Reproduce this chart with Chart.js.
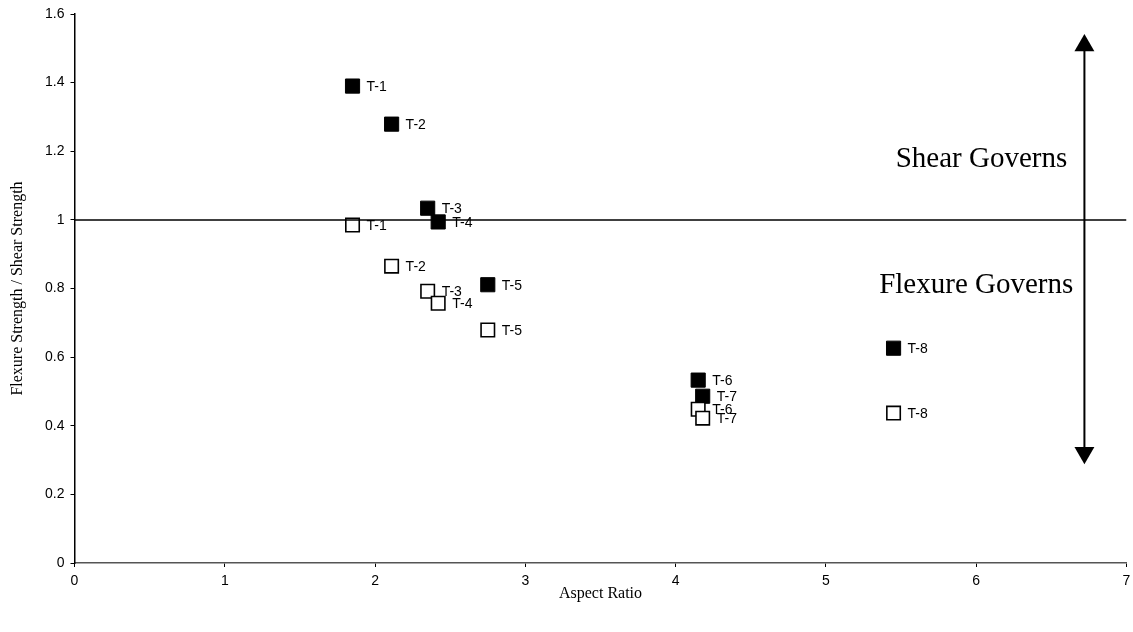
<!DOCTYPE html>
<html>
<head>
<meta charset="utf-8">
<script src="https://cdn.jsdelivr.net/npm/chart.js@4/dist/chart.umd.min.js"></script>
<style>
  body { margin: 0; background: #fff; }
  #ratio { display: block; }
</style>
</head>
<body>
<canvas id="ratio" width="1133" height="632"></canvas>
<script>
// specimens and measured values
const specimens = ["T-1", "T-2", "T-3", "T-4", "T-5", "T-6", "T-7", "T-8"];
const aspectRatio = [1.85, 2.11, 2.35, 2.42, 2.75, 4.15, 4.18, 5.45];
const ratioFilled = [1.39, 1.279, 1.034, 0.994, 0.811, 0.533, 0.486, 0.626];
const ratioOpen = [0.985, 0.865, 0.792, 0.757, 0.679, 0.448, 0.422, 0.437];

// reference line, arrow and side notes
const limitLine = [{ x: 0, y: 1 }, { x: 7, y: 1 }];
const arrowX = 6.72;
const arrowEnds = [0.321, 1.508];
const notes = [
  { text: "Shear Governs", x: 6.035, y: 1.155 },
  { text: "Flexure Governs", x: 6.0, y: 0.787 }
];

const xTicks = [0, 1, 2, 3, 4, 5, 6, 7];
const yTicks = [0, 0.2, 0.4, 0.6, 0.8, 1, 1.2, 1.4, 1.6];

const toPoints = ys => aspectRatio.map((x, i) => ({ x: x, y: ys[i] }));

const pointNames = {
  id: "pointNames",
  afterDatasetsDraw(chart) {
    const ctx = chart.ctx;
    ctx.save();
    ctx.fillStyle = "#000";
    ctx.font = "14px 'Liberation Sans', Arial, sans-serif";
    ctx.textBaseline = "middle";
    ctx.textAlign = "left";
    chart.data.datasets.forEach((ds, di) => {
      if (!ds.names) return;
      chart.getDatasetMeta(di).data.forEach((pt, i) => {
        ctx.fillText(ds.names[i], pt.x + 14, pt.y + 1);
      });
    });
    // side notes
    ctx.font = "29px 'Liberation Serif', 'Times New Roman', serif";
    ctx.textAlign = "center";
    ctx.textBaseline = "alphabetic";
    notes.forEach(n => {
      ctx.fillText(n.text, chart.scales.x.getPixelForValue(n.x), chart.scales.y.getPixelForValue(n.y));
    });
    ctx.restore();
  }
};

const ctx = document.getElementById("ratio").getContext("2d");
const chart = new Chart(ctx, {
  type: "scatter",
  data: {
    datasets: [
      {
        label: "limit",
        data: limitLine,
        showLine: true,
        borderColor: "#000",
        borderWidth: 1.5,
        pointRadius: 0
      },
      {
        label: "arrow",
        data: arrowEnds.map(y => ({ x: arrowX, y: y })),
        showLine: true,
        borderColor: "#000",
        borderWidth: 2,
        pointStyle: "triangle",
        pointRotation: [180, 0],
        pointRadius: 11.5,
        backgroundColor: "#000",
        pointBorderWidth: 0
      },
      {
        label: "open",
        names: specimens,
        data: toPoints(ratioOpen),
        pointStyle: "rect",
        pointRadius: 9.5,
        backgroundColor: "#fff",
        borderColor: "#000",
        borderWidth: 1.6
      },
      {
        label: "filled",
        names: specimens,
        data: toPoints(ratioFilled),
        pointStyle: "rect",
        pointRadius: 10,
        backgroundColor: "#000",
        borderColor: "#000",
        borderWidth: 1
      }
    ]
  },
  options: {
    responsive: false,
    animation: false,
    events: [],
    layout: { autoPadding: false, padding: { top: 14, right: 6.5, left: 0, bottom: 0 } },
    plugins: {
      legend: { display: false },
      tooltip: { enabled: false }
    },
    scales: {
      x: {
        type: "linear",
        min: 0,
        max: 7,
        afterBuildTicks: s => { s.ticks = xTicks.map(v => ({ value: v })); },
        afterFit: s => { s.height = 69; s.paddingRight = 0; s.paddingLeft = 0; },
        grid: { drawOnChartArea: false, drawTicks: true, tickLength: 4, color: "#000" },
        border: { color: "#555", width: 1.5 },
        ticks: {
          color: "#000",
          padding: 6,
          font: { family: "'Liberation Sans', Arial, sans-serif", size: 14 }
        },
        title: {
          display: true,
          text: "Aspect Ratio",
          color: "#000",
          padding: { top: 0, bottom: 29 },
          font: { family: "'Liberation Serif', 'Times New Roman', serif", size: 16 }
        }
      },
      y: {
        type: "linear",
        min: 0,
        max: 1.6,
        afterBuildTicks: s => { s.ticks = yTicks.map(v => ({ value: v })); },
        afterFit: s => { s.width = 74.5; s.paddingTop = 0; s.paddingBottom = 0; },
        grid: { drawOnChartArea: false, drawTicks: true, tickLength: 4, color: "#000" },
        border: { color: "#000", width: 1.5 },
        ticks: {
          color: "#000",
          padding: 6,
          callback: v => String(+v.toFixed(1)),
          font: { family: "'Liberation Sans', Arial, sans-serif", size: 14 }
        },
        title: {
          display: true,
          text: "Flexure Strength / Shear Strength",
          color: "#000",
          padding: { top: 8, bottom: 4 },
          font: { family: "'Liberation Serif', 'Times New Roman', serif", size: 16 }
        }
      }
    }
  },
  plugins: [pointNames]
});
</script>
</body>
</html>
